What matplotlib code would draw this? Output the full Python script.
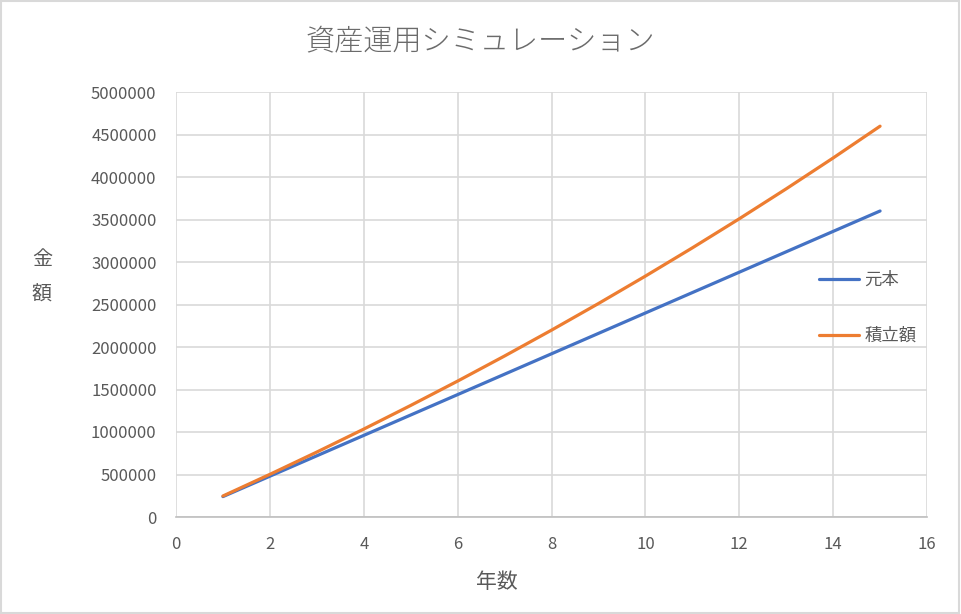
import matplotlib.pyplot as plt
from matplotlib.patches import Rectangle

plt.rcParams['font.family'] = ['Noto Sans CJK JP', 'DejaVu Sans']

# --- Data ---
years = [1, 2, 3, 4, 5, 6, 7, 8, 9, 10, 11, 12, 13, 14, 15]
principal = [240000, 480000, 720000, 960000, 1200000, 1440000, 1680000, 1920000,
             2160000, 2400000, 2640000, 2880000, 3120000, 3360000, 3600000]
accumulated = [247200, 501800, 764100, 1034200, 1312400, 1599000, 1894200, 2198200,
               2511300, 2833900, 3166100, 3508300, 3860700, 4223700, 4597700]

TEXT = '#595959'
GRID = '#D9D9D9'

fig = plt.figure(figsize=(9.61, 6.14), dpi=100)
fig.patches.append(Rectangle((0.001, 0.001), 0.997, 0.997, transform=fig.transFigure,
                             fill=False, edgecolor=GRID, linewidth=1.5))

ax = fig.add_axes([176 / 961, 97 / 614, 751 / 961, 425 / 614])
ax.plot(years, principal, color='#4472C4', linewidth=2.3, label='元本', solid_capstyle='round')
ax.plot(years, accumulated, color='#ED7D31', linewidth=2.3, label='積立額', solid_capstyle='round')

ax.set_xlim(0, 16)
ax.set_ylim(0, 5000000)
ax.set_xticks(range(0, 17, 2))
ax.set_yticks(range(0, 5000001, 500000))
ax.ticklabel_format(style='plain', axis='y')
ax.grid(True, color=GRID, linewidth=1.2)
ax.set_axisbelow(True)
for s in ['top', 'right', 'left']:
    ax.spines[s].set_visible(False)
ax.spines['bottom'].set_color('#BFBFBF')
ax.spines['bottom'].set_linewidth(1.2)
ax.tick_params(length=0, labelsize=12, labelcolor=TEXT)
ax.tick_params(axis='y', pad=14)
ax.tick_params(axis='x', pad=14)

fig.text(0.5, 1 - 41 / 614, '資産運用シミュレーション', ha='center', va='center',
         fontsize=21, color='#6b6b6b', fontweight='light')
fig.text(42 / 961, 1 - 277 / 614, '金\n\n額', ha='center', va='center',
         fontsize=14.5, color=TEXT, linespacing=0.8)
fig.text(497 / 961, 1 - 582 / 614, '年数', ha='center', va='center',
         fontsize=15, color=TEXT)

leg = ax.legend(loc='center left', bbox_to_anchor=(803 / 961, 1 - 308 / 614),
                bbox_transform=fig.transFigure, frameon=False, fontsize=12.5,
                labelspacing=2.2, handlelength=2.35, handletextpad=0.3)
for t in leg.get_texts():
    t.set_color(TEXT)

fig.savefig('out.png', dpi=100)
